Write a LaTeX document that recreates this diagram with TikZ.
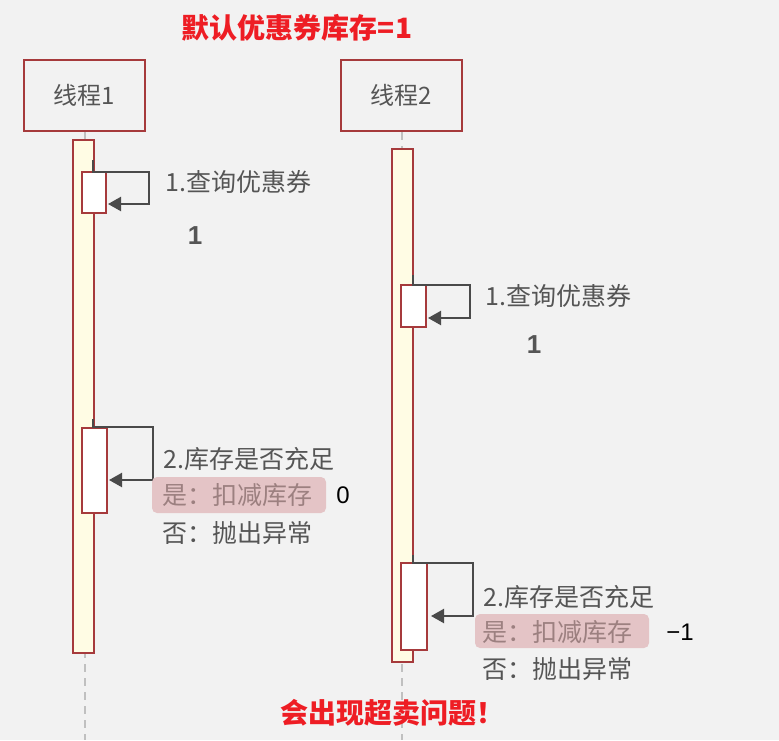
\documentclass[tikz,border=0pt]{standalone}
\usepackage{fontspec}
\setmainfont{Noto Sans CJK SC}
\newfontfamily\latinfont{Liberation Sans}
\usetikzlibrary{arrows.meta,calc}
\definecolor{bg}{HTML}{F2F2F2}
\definecolor{boxred}{HTML}{A63A3C}
\definecolor{txtgray}{HTML}{555555}
\definecolor{arrgray}{HTML}{4A4A4A}
\definecolor{actfill}{HTML}{FFFCE4}
\definecolor{hlfill}{HTML}{E4C4C6}
\definecolor{hltext}{HTML}{9C8080}
\definecolor{titlered}{HTML}{EE1D24}
\definecolor{lifegray}{HTML}{C0C0C0}
\begin{document}
\begin{tikzpicture}[x=1pt,y=-1pt,
  hdr/.style={draw=boxred,line width=2.5pt,fill=bg,minimum width=121pt,minimum height=71pt,inner sep=0pt,text=txtgray,font=\fontsize{24}{28}\selectfont},
  life/.style={draw=lifegray,line width=2pt,dash pattern=on 8pt off 6pt},
  actbar/.style={draw=boxred,line width=2.3pt,fill=actfill,minimum width=21pt,inner sep=0pt},
  inbox/.style={draw=boxred,line width=2pt,fill=white,inner sep=0pt},
  call/.style={draw=arrgray,line width=2.2pt,-{Triangle[length=13pt,width=14pt]}},
  lbl/.style={anchor=west,inner sep=0pt,text=txtgray,font=\fontsize{25}{28}\selectfont},
  hl/.style={fill=hlfill,rounded corners=5pt,inner sep=0pt},
  hltxt/.style={anchor=west,inner sep=0pt,text=hltext,font=\fontsize{25}{28}\selectfont},
  val/.style={inner sep=0pt,text=txtgray,font=\latinfont\fontsize{26}{30}\bfseries},
  num/.style={inner sep=0pt,text=black,font=\latinfont\fontsize{24}{28}\selectfont},
  red/.style={inner sep=0pt,text=titlered,font=\fontsize{28}{32}\bfseries}
]
\fill[bg] (0,0) rectangle (779,740);
\useasboundingbox (0,0) rectangle (779,740);

% title
\node[red] (title) at (297,28) {默认优惠券库存=1};

% headers
\node[hdr] (t1) at (84.5,95.5) {线程1};
\node[hdr] (t2) at (401.5,95.5) {线程2};

% lifelines
\coordinate (l1end) at (84.5,740);
\coordinate (l2end) at (401.5,740);
\draw[life] (t1.south) -- (l1end);
\draw[life] (t2.south) -- (l2end);

% activation bars
\node[actbar,minimum height=513pt] (act1) at (83.5,396.5) {};
\node[actbar,minimum height=513pt] (act2) at (402.5,405.5) {};

% inner boxes
\node[inbox,minimum width=24pt,minimum height=41pt] (a11) at (94,192.5) {};
\node[inbox,minimum width=25pt,minimum height=85pt] (a12) at (94.5,470.5) {};
\node[inbox,minimum width=25pt,minimum height=42pt] (b11) at (413.5,306) {};
\node[inbox,minimum width=26pt,minimum height=87pt] (b12) at (414,606.5) {};

% self calls
\coordinate (s11) at (93,160);
\draw[call] (s11) |- (149,172) |- ($(a11.south east)+(1,-10)$);
\coordinate (s12) at (93,419);
\draw[call] (s12) |- (153,427) |- ($(a12.south east)+(1,-34)$);
\coordinate (s21) at (413,275);
\draw[call] (s21) |- (470,285) |- ($(b11.south east)+(1,-10)$);
\coordinate (s22) at (413,555);
\draw[call] (s22) |- (473,563) |- ($(b12.south east)+(3,-35)$);

% thread 1 labels
\node[lbl] (q1) at (165,182) {1.查询优惠券};
\node[val] (v1) at (195,236) {1};
\node[lbl] (c1) at (163,459) {2.库存是否充足};
\fill[hl] (152,477) rectangle (326,513);
\node[hltxt] (y1) at (162,495) {是：扣减库存};
\node[num] (n1) at (343,495) {0};
\node[lbl] (f1) at (162,533) {否：抛出异常};

% thread 2 labels
\node[lbl] (q2) at (485,296) {1.查询优惠券};
\node[val] (v2) at (534,345) {1};
\node[lbl] (c2) at (483,597) {2.库存是否充足};
\fill[hl] (475,614) rectangle (649,648);
\node[hltxt] (y2) at (482,632) {是：扣减库存};
\node[num] (n2) at (680,632) {−1};
\node[lbl] (f2) at (482,669) {否：抛出异常};

% bottom
\node[red,anchor=west] (warn) at (280,713) {会出现超卖问题！};
\end{tikzpicture}
\end{document}
